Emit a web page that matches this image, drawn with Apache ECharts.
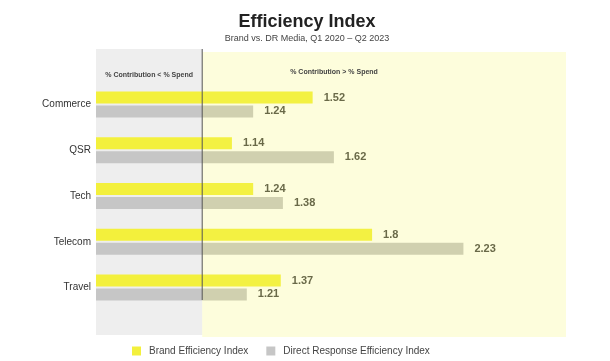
<!DOCTYPE html>
<html>
<head>
<meta charset="utf-8">
<script src="https://cdn.jsdelivr.net/npm/echarts@6/dist/echarts.min.js"></script>
<style>
html,body{margin:0;padding:0;background:#fff;}
#chart{width:610px;height:361px;}
</style>
</head>
<body>
<div id="chart"></div>
<script>
const categories = ['Commerce', 'QSR', 'Tech', 'Telecom', 'Travel'];
const brandValues = [1.52, 1.14, 1.24, 1.8, 1.37];
const drValues = [1.24, 1.62, 1.38, 2.23, 1.21];
const seriesNames = ['Brand Efficiency Index', 'Direct Response Efficiency Index'];
const headerLeft = '% Contribution < % Spend';
const headerRight = '% Contribution > % Spend';
const threshold = 1;
const axisMin = 0.5;
const axisMax = 2.713;

const chart = echarts.init(document.getElementById('chart'));
const font = 'Liberation Sans, Arial, sans-serif';

const labelStyle = {
  show: true,
  position: 'right',
  distance: 11,
  fontFamily: font,
  fontSize: 11,
  fontWeight: 'bold',
  color: '#444'
};

chart.setOption({
  animation: false,
  backgroundColor: '#ffffff',
  title: {
    text: 'Efficiency Index',
    subtext: 'Brand vs. DR Media, Q1 2020 – Q2 2023',
    left: 302,
    textAlign: 'center',
    top: 8,
    itemGap: 3,
    textStyle: { fontFamily: font, fontSize: 18, fontWeight: 'bold', color: '#222' },
    subtextStyle: { fontFamily: font, fontSize: 9, color: '#444' }
  },
  legend: {
    left: 127,
    top: 341,
    itemWidth: 9,
    itemHeight: 9,
    itemGap: 18,
    icon: 'rect',
    textStyle: { fontFamily: font, fontSize: 10, color: '#444', padding: [0, 0, 0, 3] },
    data: seriesNames
  },
  grid: { left: 96, right: 44, top: 81.6, bottom: 50.6 },
  xAxis: {
    type: 'value',
    min: axisMin,
    max: axisMax,
    show: false,
    splitLine: { show: false }
  },
  yAxis: {
    type: 'category',
    data: categories,
    inverse: true,
    axisLine: { show: false },
    axisTick: { show: false },
    axisLabel: { fontFamily: font, fontSize: 10, color: '#333', margin: 5 }
  },
  series: [
    {
      name: seriesNames[0],
      type: 'bar',
      data: brandValues,
      barWidth: 12,
      barGap: '15%',
      itemStyle: { color: '#f3f03c' },
      label: labelStyle,
      z: 3
    },
    {
      name: seriesNames[1],
      type: 'bar',
      data: drValues,
      barWidth: 12,
      itemStyle: { color: '#c6c6c6' },
      label: labelStyle,
      z: 3
    }
  ]
});

const x0 = chart.convertToPixel({ xAxisIndex: 0 }, axisMin);
const x1 = chart.convertToPixel({ xAxisIndex: 0 }, threshold);
const x2 = chart.convertToPixel({ xAxisIndex: 0 }, axisMax);

chart.setOption({
  graphic: [
    {
      type: 'rect', z: -10, silent: true,
      shape: { x: x0, y: 49, width: x1 - x0, height: 286 },
      style: { fill: '#eeeeee' }
    },
    {
      type: 'rect', z: 100, silent: true,
      shape: { x: x1, y: 52, width: x2 - x1, height: 285 },
      style: { fill: 'rgba(245,245,88,0.21)' }
    },
    {
      type: 'line', z: 101, silent: true,
      shape: { x1: x1, y1: 49, x2: x1, y2: 300 },
      style: { stroke: '#555', lineWidth: 1 }
    },
    {
      type: 'text', z: 102, silent: true,
      style: {
        text: headerLeft, x: (x0 + x1) / 2, y: 75,
        align: 'center', verticalAlign: 'middle',
        font: 'bold 7px ' + font, fill: '#444'
      }
    },
    {
      type: 'text', z: 102, silent: true,
      style: {
        text: headerRight, x: 334, y: 72,
        align: 'center', verticalAlign: 'middle',
        font: 'bold 7px ' + font, fill: '#444'
      }
    }
  ]
});
</script>
</body>
</html>
